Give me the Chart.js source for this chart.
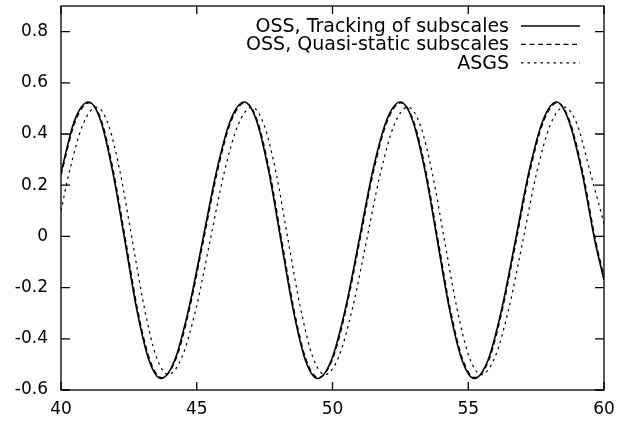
<!DOCTYPE html>
<html lang="en">
<head>
    <meta charset="UTF-8">
    <title>Subscale comparison</title>
    <style>
        html, body {
            margin: 0;
            padding: 0;
            background-color: #ffffff;
        }
        #wrap {
            width: 617px;
            height: 422px;
        }
    </style>
    <script src="https://cdn.jsdelivr.net/npm/chart.js"></script>
</head>
<body>
    <div id="wrap"><canvas id="chart" width="617" height="422"></canvas></div>

    <script>
        // values: time on x, response on y
        const trackX = [40.00, 40.50, 41.01, 41.46, 41.90, 42.35, 42.79, 43.24, 43.68, 44.19, 44.70, 45.22, 45.73, 46.24, 46.75, 47.20, 47.65, 48.10, 48.55, 49.00, 49.45, 49.96, 50.47, 50.98, 51.48, 51.99, 52.50, 52.95, 53.41, 53.86, 54.31, 54.77, 55.22, 55.73, 56.23, 56.74, 57.24, 57.75, 58.25, 58.70, 59.18, 59.66, 60.00];
        const trackY = [0.25, 0.453, 0.525, 0.453, 0.255, -0.015, -0.285, -0.483, -0.555, -0.483, -0.285, -0.015, 0.255, 0.453, 0.525, 0.453, 0.255, -0.015, -0.285, -0.483, -0.555, -0.483, -0.285, -0.015, 0.255, 0.453, 0.525, 0.453, 0.255, -0.015, -0.285, -0.483, -0.555, -0.483, -0.285, -0.015, 0.255, 0.453, 0.525, 0.453, 0.255, -0.015, -0.17];

        const quasiX = [40.00, 40.52, 41.04, 41.49, 41.93, 42.38, 42.82, 43.27, 43.71, 44.22, 44.73, 45.25, 45.76, 46.27, 46.78, 47.23, 47.68, 48.13, 48.58, 49.03, 49.48, 49.99, 50.50, 51.01, 51.51, 52.02, 52.53, 52.98, 53.44, 53.89, 54.34, 54.80, 55.25, 55.76, 56.26, 56.77, 57.27, 57.78, 58.28, 58.73, 59.21, 59.69, 60.00];
        const quasiY = [0.24, 0.448, 0.522, 0.452, 0.254, -0.016, -0.286, -0.482, -0.552, -0.482, -0.284, -0.014, 0.254, 0.451, 0.522, 0.452, 0.254, -0.016, -0.286, -0.482, -0.552, -0.482, -0.284, -0.014, 0.254, 0.451, 0.522, 0.452, 0.254, -0.016, -0.286, -0.482, -0.552, -0.482, -0.284, -0.014, 0.254, 0.451, 0.522, 0.452, 0.254, -0.016, -0.16];

        const asgsX = [40.00, 40.29, 40.80, 41.31, 41.75, 42.19, 42.63, 43.07, 43.51, 43.95, 44.46, 44.98, 45.49, 46.00, 46.52, 47.03, 47.48, 47.93, 48.37, 48.82, 49.27, 49.72, 50.23, 50.74, 51.25, 51.76, 52.27, 52.78, 53.23, 53.68, 54.13, 54.58, 55.03, 55.48, 55.99, 56.50, 57.01, 57.51, 58.02, 58.53, 59.00, 59.47, 60.00];
        const asgsY = [0.10, 0.244, 0.435, 0.505, 0.435, 0.244, -0.018, -0.279, -0.470, -0.540, -0.470, -0.279, -0.018, 0.244, 0.435, 0.505, 0.435, 0.244, -0.018, -0.279, -0.470, -0.540, -0.470, -0.279, -0.018, 0.244, 0.435, 0.505, 0.435, 0.244, -0.018, -0.279, -0.470, -0.540, -0.470, -0.279, -0.018, 0.244, 0.435, 0.505, 0.440, 0.260, 0.05];

        const seriesNames = ['OSS, Tracking of subscales', 'OSS, Quasi-static subscales', 'ASGS'];
        const xTicks = [40, 45, 50, 55, 60];
        const yTicks = [-0.6, -0.4, -0.2, 0, 0.2, 0.4, 0.6, 0.8];

        const FONT = "'DejaVu Sans', 'Liberation Sans', sans-serif";

        function toPoints(xs, ys) {
            return xs.map((x, i) => ({ x: x, y: ys[i] }));
        }

        // box, inward ticks on all four sides and a gnuplot-style key
        const framePlugin = {
            id: 'frame',
            afterDatasetsDraw(chart) {
                const ctx = chart.ctx;
                const a = chart.chartArea;
                const xs = chart.scales.x;
                const ys = chart.scales.y;
                ctx.save();
                ctx.strokeStyle = '#000';
                ctx.lineWidth = 1.3;
                ctx.setLineDash([]);
                ctx.strokeRect(a.left, a.top, a.right - a.left, a.bottom - a.top);

                ctx.beginPath();
                xTicks.forEach(v => {
                    const px = xs.getPixelForValue(v);
                    ctx.moveTo(px, a.bottom); ctx.lineTo(px, a.bottom - 8);
                    ctx.moveTo(px, a.top); ctx.lineTo(px, a.top + 8);
                });
                yTicks.forEach(v => {
                    const py = ys.getPixelForValue(v);
                    ctx.moveTo(a.left, py); ctx.lineTo(a.left + 9, py);
                    ctx.moveTo(a.right, py); ctx.lineTo(a.right - 9, py);
                });
                ctx.stroke();

                // key
                ctx.font = '19px ' + FONT;
                ctx.fillStyle = '#000';
                ctx.textAlign = 'right';
                ctx.textBaseline = 'middle';
                chart.data.datasets.forEach((ds, i) => {
                    const yy = a.top + 20 + i * 18.4;
                    ctx.fillText(ds.label, 509, yy + 1);
                    ctx.beginPath();
                    ctx.lineWidth = ds.borderWidth;
                    ctx.setLineDash(ds.borderDash || []);
                    ctx.moveTo(521, yy);
                    ctx.lineTo(580, yy);
                    ctx.stroke();
                });
                ctx.restore();
            }
        };

        new Chart(document.getElementById('chart').getContext('2d'), {
            type: 'line',
            data: {
                datasets: [{
                    label: seriesNames[0],
                    data: toPoints(trackX, trackY),
                    borderColor: '#000',
                    borderWidth: 1.6,
                    borderDash: []
                }, {
                    label: seriesNames[1],
                    data: toPoints(quasiX, quasiY),
                    borderColor: '#000',
                    borderWidth: 1.4,
                    borderDash: [5, 3.5]
                }, {
                    label: seriesNames[2],
                    data: toPoints(asgsX, asgsY),
                    borderColor: '#000',
                    borderWidth: 1.2,
                    borderDash: [2.5, 4]
                }]
            },
            options: {
                responsive: false,
                animation: false,
                devicePixelRatio: 1,
                layout: { padding: { top: 6, right: 13, left: 0, bottom: 0 } },
                elements: {
                    point: { radius: 0 },
                    line: { cubicInterpolationMode: 'monotone', fill: false }
                },
                plugins: {
                    legend: { display: false },
                    tooltip: { enabled: false }
                },
                scales: {
                    x: {
                        type: 'linear',
                        min: 40,
                        max: 60,
                        afterBuildTicks: s => { s.ticks = xTicks.map(v => ({ value: v })); },
                        afterFit: s => {
                            s.height = 32;
                            s.paddingLeft = 0;
                            s.paddingRight = 0;
                        },
                        grid: { display: false, drawTicks: false },
                        border: { display: false },
                        ticks: {
                            color: '#000',
                            padding: 9,
                            maxRotation: 0,
                            font: { family: FONT, size: 17 },
                            callback: v => String(v)
                        }
                    },
                    y: {
                        type: 'linear',
                        min: -0.6,
                        max: 0.9,
                        afterBuildTicks: s => { s.ticks = yTicks.map(v => ({ value: v })); },
                        afterFit: s => {
                            s.width = 61;
                            s.paddingTop = 0;
                            s.paddingBottom = 0;
                        },
                        grid: { display: false, drawTicks: false },
                        border: { display: false },
                        ticks: {
                            color: '#000',
                            padding: 13,
                            font: { family: FONT, size: 17 },
                            callback: v => String(Math.round(v * 10) / 10)
                        }
                    }
                }
            },
            plugins: [framePlugin]
        });
    </script>
</body>
</html>
